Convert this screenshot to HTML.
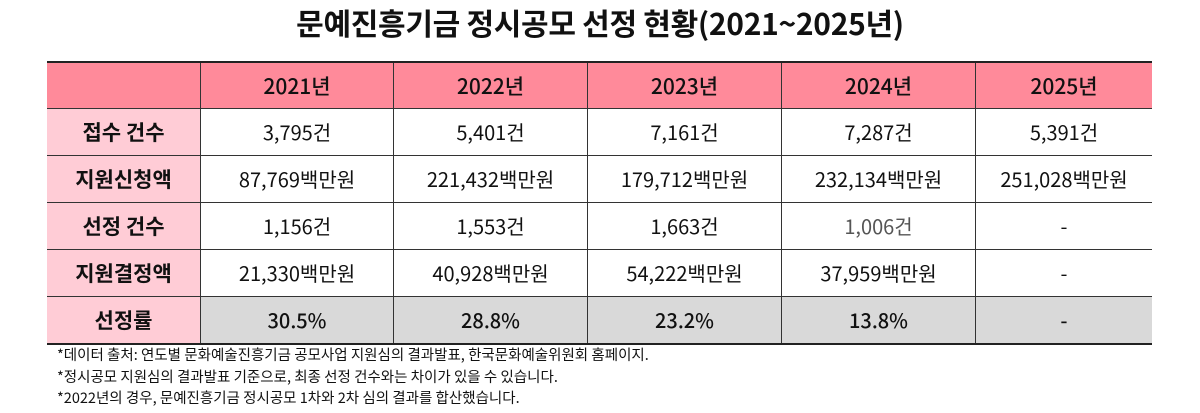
<!DOCTYPE html>
<html><head><meta charset="utf-8"><style>
body{margin:0;width:1200px;height:413px;background:#fff;font-family:"Noto Sans CJK KR",sans-serif;overflow:hidden}
h1{position:absolute;left:0;top:0;width:1200px;text-align:center;margin:0;font-size:30px;line-height:44px;font-weight:bold;color:#111;font-family:"Noto Sans CJK KR",sans-serif;letter-spacing:-0.3px}
table{position:absolute;left:47px;top:61px;border-collapse:collapse;width:1105px;border-top:2px solid #222;border-bottom:2px solid #222;font-family:"Noto Sans CJK KR",sans-serif}
td,th{border:1px solid #333;text-align:center;height:46px;padding:0;font-size:20px;color:#111;line-height:24px}
tr>*:first-child{border-left:none}tr>*:last-child{border-right:none}
th{background:#ff8a9a;font-weight:500;font-size:21px;height:45px}
td.l{background:#ffccd6;font-weight:bold;font-size:21px;width:153px}
tr.rate td{background:#d9d9d9;font-weight:500}
tr.rate td.l{background:#ffccd6;font-weight:bold}
.n{position:absolute;left:57px;font-size:14.5px;line-height:18px;color:#111;font-family:"Noto Sans CJK KR",sans-serif}
</style></head><body>
<h1>문예진흥기금 정시공모 선정 현황(2021~2025년)</h1>
<table>
<tr><th style="width:153px"></th><th style="width:192px">2021년</th><th style="width:193px">2022년</th><th style="width:193px">2023년</th><th style="width:193px">2024년</th><th>2025년</th></tr>
<tr><td class="l">접수 건수</td><td>3,795건</td><td>5,401건</td><td>7,161건</td><td>7,287건</td><td>5,391건</td></tr>
<tr><td class="l">지원신청액</td><td>87,769백만원</td><td>221,432백만원</td><td>179,712백만원</td><td>232,134백만원</td><td>251,028백만원</td></tr>
<tr><td class="l">선정 건수</td><td>1,156건</td><td>1,553건</td><td>1,663건</td><td style="color:#555">1,006건</td><td>-</td></tr>
<tr><td class="l">지원결정액</td><td>21,330백만원</td><td>40,928백만원</td><td>54,222백만원</td><td>37,959백만원</td><td>-</td></tr>
<tr class="rate"><td class="l">선정률</td><td>30.5%</td><td>28.8%</td><td>23.2%</td><td>13.8%</td><td>-</td></tr>
</table>
<div class="n" style="top:346px">*데이터 출처: 연도별 문화예술진흥기금 공모사업 지원심의 결과발표, 한국문화예술위원회 홈페이지.</div>
<div class="n" style="top:368px">*정시공모 지원심의 결과발표 기준으로, 최종 선정 건수와는 차이가 있을 수 있습니다.</div>
<div class="n" style="top:389px">*2022년의 경우, 문예진흥기금 정시공모 1차와 2차 심의 결과를 합산했습니다.</div>
</body></html>
